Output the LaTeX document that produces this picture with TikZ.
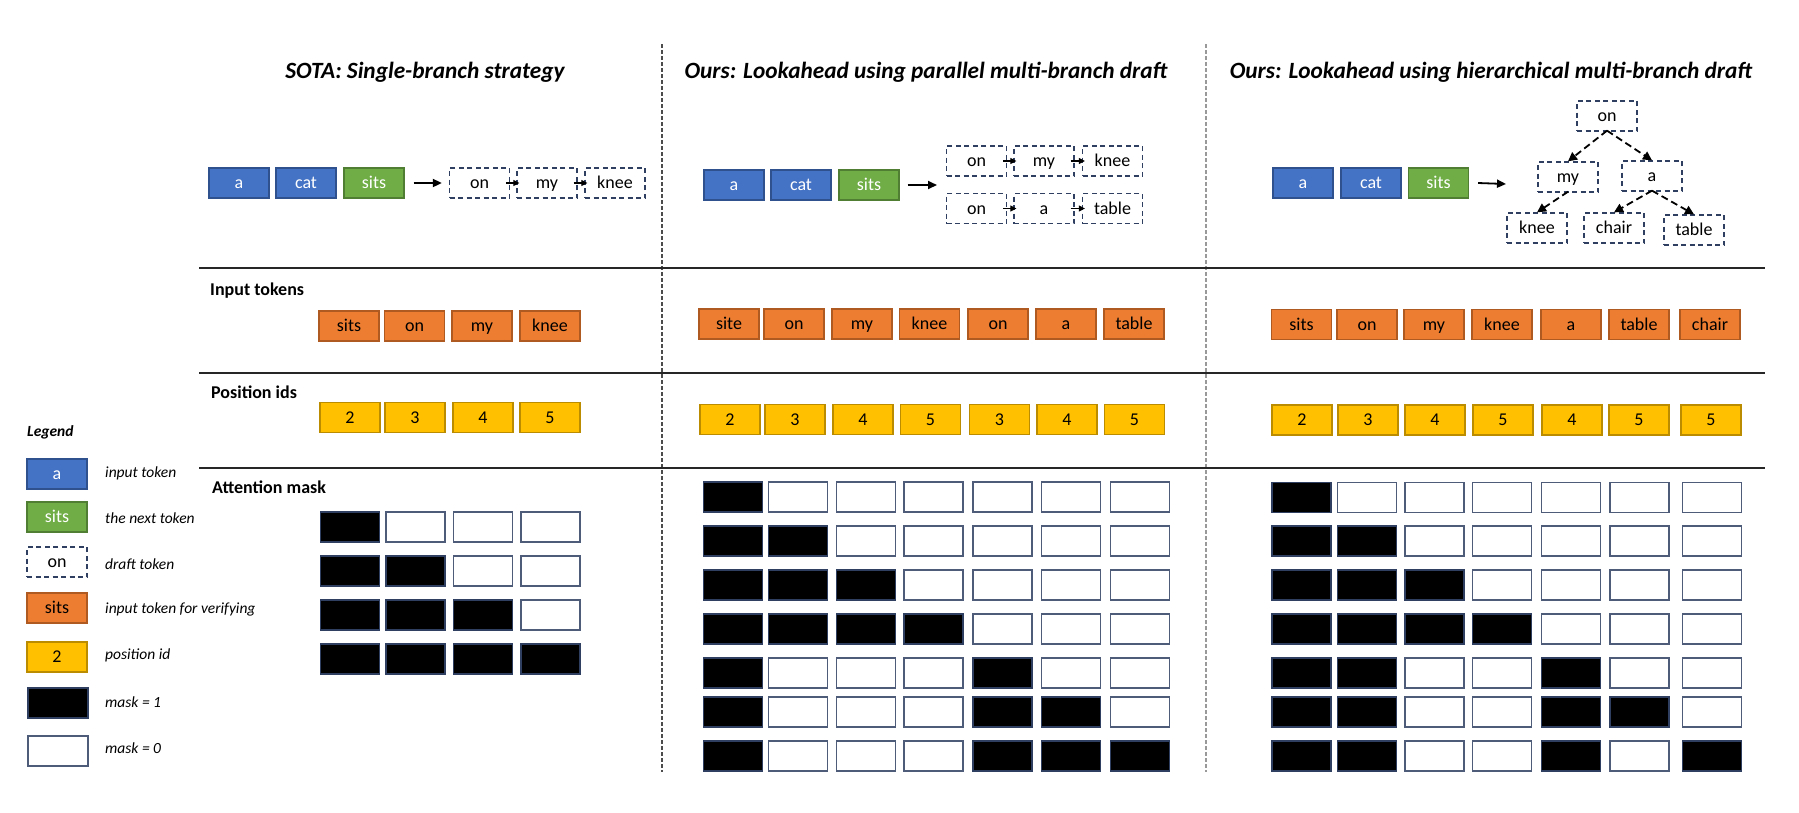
\documentclass[tikz,border=0pt]{standalone}
\usepackage{fontspec}
\setmainfont{Carlito}
\usetikzlibrary{arrows.meta}
\definecolor{cblue}{HTML}{4472C4}
\definecolor{cblueb}{HTML}{2F528F}
\definecolor{cgreen}{HTML}{70AD47}
\definecolor{cgreenb}{HTML}{507E32}
\definecolor{corange}{HTML}{ED7D31}
\definecolor{corangeb}{HTML}{AE5A21}
\definecolor{cyellow}{HTML}{FFC000}
\definecolor{cyellowb}{HTML}{BC8C00}
\definecolor{cnavy}{HTML}{2F3F62}
\definecolor{cdraft}{HTML}{2F3F62}
\newcommand{\fsz}[1]{\fontsize{#1}{#1}\selectfont}
\tikzset{
  tokbox/.style={minimum width=60pt, minimum height=30pt, inner sep=0pt, line width=1.2pt,
    font=\fsz{18}, text height=13pt, text depth=1.6pt},
  inblue/.style={tokbox, fill=cblue, draw=cblueb, text=white},
  ingreen/.style={tokbox, fill=cgreen, draw=cgreenb, text=white},
  draftbox/.style={tokbox, draw=cdraft, line width=1.3pt, dash pattern=on 5pt off 3.5pt, fill=white},
  verify/.style={tokbox, fill=corange, draw=corangeb},
  posid/.style={tokbox, fill=cyellow, draw=cyellowb},
  mone/.style={tokbox, minimum width=59pt, fill=black, draw=cnavy, line width=1.4pt},
  mzero/.style={tokbox, minimum width=59pt, fill=white, draw=cnavy!85, line width=1.5pt},
  ttl/.style={font=\fsz{23.3}\bfseries\itshape},
  rowlab/.style={font=\fsz{18}\bfseries, anchor=west, inner sep=0pt},
  leglab/.style={font=\fsz{15.5}\itshape, anchor=west, inner sep=0pt},
  sepline/.style={line width=1.8pt, draw=black!85},
  vsep/.style={line width=1.1pt, dash pattern=on 4pt off 2pt},
  bigarr/.style={-{Triangle[length=9pt,width=8pt]}, line width=1.8pt},
  smallarr/.style={-{Triangle[length=6pt,width=6pt]}, line width=1.2pt},
  treearr/.style={-{Triangle[length=9pt,width=9pt]}, line width=1.8pt, dash pattern=on 7pt off 4pt}
}
\begin{document}
\begin{tikzpicture}[x=1pt,y=-1pt]
\fill[white] (0,0) rectangle (1799,812);
\useasboundingbox (0,0) rectangle (1799,812);

% titles
\node[ttl] (t1) at (425,72) {SOTA: Single-branch strategy};
\node[ttl] (t2) at (926,72) {Ours: Lookahead using parallel multi-branch draft};
\node[ttl] (t3) at (1491,72) {Ours: Lookahead using hierarchical multi-branch draft};

% separators
\draw[vsep, draw=black!70] (662,44) -- (662,772);
\draw[vsep, draw=black!40] (1206,44) -- (1206,772);
\draw[sepline] (199,268) -- (1765,268);
\draw[sepline] (199,373) -- (1765,373);
\draw[sepline] (199,468) -- (1765,468);

% row labels
\node[rowlab] (lin) at (210,291) {Input tokens};
\node[rowlab] (lpos) at (211,392) {Position ids};
\node[rowlab] (lmask) at (212,487) {Attention mask};

% ---------- SOTA top ----------
\node[inblue] (sa) at (239,183) {a};
\node[inblue] (scat) at (306,183) {cat};
\node[ingreen] (ssits) at (374,183) {sits};
\node[draftbox] (son) at (479.5,183) {on};
\node[draftbox] (smy) at (547,183) {my};
\node[draftbox] (sknee) at (615,183) {knee};
\draw[bigarr] ([xshift=9pt]ssits.east) -- ([xshift=-7pt]son.west);
\draw[smallarr] ([xshift=-4pt]son.east) -- ([xshift=3pt]smy.west);
\draw[smallarr] ([xshift=-4pt]smy.east) -- ([xshift=3pt]sknee.west);

% ---------- middle top ----------
\node[inblue] (ma) at (734,185) {a};
\node[inblue] (mcat) at (801,185) {cat};
\node[ingreen] (msits) at (869,185) {sits};
\node[draftbox] (mon1) at (976.5,161) {on};
\node[draftbox] (mmy1) at (1044,161) {my};
\node[draftbox] (mknee1) at (1112.5,161) {knee};
\node[draftbox] (mon2) at (976.5,208.5) {on};
\node[draftbox] (ma2) at (1044,208.5) {a};
\node[draftbox] (mtable2) at (1112.5,208.5) {table};
\coordinate (marr) at (937,185);
\draw[bigarr] ([xshift=8pt]msits.east) -- (marr);
\draw[smallarr] ([xshift=-4pt]mon1.east) -- ([xshift=3pt]mmy1.west);
\draw[smallarr] ([xshift=-4pt]mmy1.east) -- ([xshift=3pt]mknee1.west);
\draw[smallarr] ([xshift=-4pt]mon2.east) -- ([xshift=3pt]ma2.west);
\draw[smallarr] ([xshift=-4pt]ma2.east) -- ([xshift=3pt]mtable2.west);

% ---------- right top ----------
\node[inblue] (ra) at (1303,183) {a};
\node[inblue] (rcat) at (1371,183) {cat};
\node[ingreen] (rsits) at (1438.5,183) {sits};
\coordinate (rarr) at (1506,184);
\draw[bigarr] ([xshift=9pt]rsits.east) -- (rarr);
\node[draftbox] (ron) at (1607,116) {on};
\node[draftbox] (rmy) at (1568,177) {my};
\node[draftbox] (ra2) at (1652,176) {a};
\node[draftbox] (rknee) at (1537,228) {knee};
\node[draftbox] (rchair) at (1614,228) {chair};
\node[draftbox] (rtable) at (1694,230) {table};
\draw[treearr] ([yshift=1pt]ron.south) -- (rmy.north);
\draw[treearr] ([yshift=1pt]ron.south) -- (ra2.north);
\draw[treearr] ([yshift=1pt]rmy.south) -- (rknee.north);
\draw[treearr] ([yshift=1pt]ra2.south) -- (rchair.north);
\draw[treearr] ([yshift=1pt]ra2.south) -- (rtable.north);

% ---------- input tokens ----------
\foreach \x/\t [count=\i] in {349/sits,414.5/on,482/my,550/knee}
  \node[verify] (sin\i) at (\x,326) {\t};
\foreach \x/\t [count=\i] in {729/site,794/on,862/my,929.5/knee,998/on,1066/a,1134/table}
  \node[verify] (min\i) at (\x,324) {\t};
\foreach \x/\t [count=\i] in {1301.5/sits,1367/on,1434/my,1502/knee,1571/a,1639/table,1710/chair}
  \node[verify] (rin\i) at (\x,324.5) {\t};

% ---------- position ids ----------
\foreach \x/\t [count=\i] in {350/2,415/3,483/4,550/5}
  \node[posid] (spos\i) at (\x,417.5) {\t};
\foreach \x/\t [count=\i] in {730/2,795/3,863/4,930.5/5,999.5/3,1067/4,1134.5/5}
  \node[posid] (mpos\i) at (\x,419.5) {\t};
\foreach \x/\t [count=\i] in {1302/2,1368/3,1435/4,1503/5,1572/4,1639/5,1711/5}
  \node[posid] (rpos\i) at (\x,420) {\t};

% ---------- attention masks ----------
\foreach \r/\yy in {1/527,2/571,3/615,4/659}{
  \foreach \xx [count=\c] in {350,415.5,483,550.5}{
    \ifnum\c>\r\relax\def\st{mzero}\else\def\st{mone}\fi
    \node[\st] (sm-\r-\c) at (\xx,\yy) {};
  }
}
\foreach \r/\yy/\pat in {1/497/{1,0,0,0,0,0,0},2/541/{1,1,0,0,0,0,0},3/585/{1,1,1,0,0,0,0},
    4/629/{1,1,1,1,0,0,0},5/673/{1,0,0,0,1,0,0},6/712/{1,0,0,0,1,1,0},7/756/{1,0,0,0,1,1,1}}{
  \foreach \v [count=\c] in \pat {
    \pgfmathsetmacro\xx{{733,798,866,933.5,1002.5,1071,1140}[\c-1]}
    \ifnum\v=1\relax\def\st{mone}\else\def\st{mzero}\fi
    \node[\st] (mm-\r-\c) at (\xx,\yy) {};
  }
}
\foreach \r/\yy/\pat in {1/497.5/{1,0,0,0,0,0,0},2/541/{1,1,0,0,0,0,0},3/585/{1,1,1,0,0,0,0},
    4/629/{1,1,1,1,0,0,0},5/673/{1,1,0,0,1,0,0},6/712/{1,1,0,0,1,1,0},7/756/{1,1,0,0,1,0,1}}{
  \foreach \v [count=\c] in \pat {
    \pgfmathsetmacro\xx{{1301.5,1367,1434.5,1502,1571,1639.5,1712}[\c-1]}
    \ifnum\v=1\relax\def\st{mone}\else\def\st{mzero}\fi
    \node[\st] (rm-\r-\c) at (\xx,\yy) {};
  }
}

% ---------- legend ----------
\node[font=\fsz{15.5}\bfseries\itshape, anchor=west, inner sep=0pt] (leg) at (27,432) {Legend};
\node[inblue] (lg1) at (57,474) {a};
\node[ingreen] (lg2) at (57,517) {sits};
\node[draftbox] (lg3) at (57,562) {on};
\node[verify] (lg4) at (57,608) {sits};
\node[posid] (lg5) at (57,657) {2};
\node[mone, minimum width=60pt] (lg6) at (58,703) {};
\node[mzero, minimum width=60pt] (lg7) at (58,751) {};
\node[leglab] (lt1) at (105,473) {input token};
\node[leglab] (lt2) at (105,518) {the next token};
\node[leglab] (lt3) at (105,564) {draft token};
\node[leglab] (lt4) at (105,609) {input token for verifying};
\node[leglab] (lt5) at (105,655) {position id};
\node[leglab] (lt6) at (105,702) {mask = 1};
\node[leglab] (lt7) at (105,748) {mask = 0};
\end{tikzpicture}
\end{document}
